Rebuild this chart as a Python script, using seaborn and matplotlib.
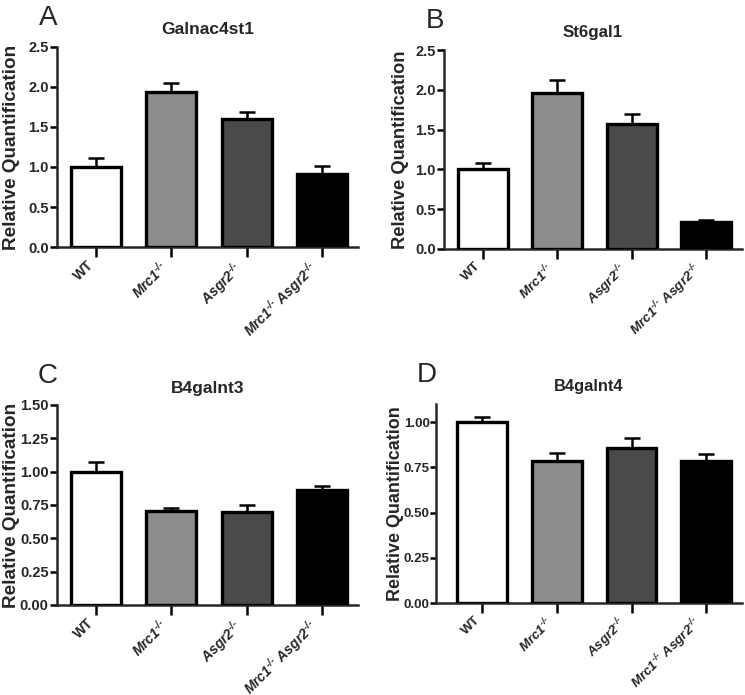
#
## plot.py
#
#  Relative quantification of four glycosyltransferase transcripts in WT and receptor knockout mice.
#

import matplotlib
matplotlib.use("Agg")
import matplotlib.pyplot as plt
import matplotlib.transforms as mtransforms
import seaborn as sns

sns.set_theme(style="ticks")
plt.rcParams['font.family'] = ['Liberation Sans', 'DejaVu Sans']
plt.rcParams['mathtext.fontset'] = 'custom'
plt.rcParams['mathtext.rm'] = 'Liberation Sans:italic:bold'
plt.rcParams['mathtext.it'] = 'Liberation Sans:italic:bold'
plt.rcParams['mathtext.bf'] = 'Liberation Sans:bold'

# genotypes and bar colours
genotypes = ["WT", r"Mrc1$^{\text{-/-}}$", r"Asgr2$^{\text{-/-}}$",
             r"Mrc1$^{\text{-/-}}$ Asgr2$^{\text{-/-}}$"]
bar_colors = ["#ffffff", "#8c8c8c", "#4a4a4a", "#000000"]

# values (mean and upper SEM)
galnac4st1_mean = [1.00, 1.94, 1.60, 0.91]
galnac4st1_err = [0.11, 0.11, 0.09, 0.10]
st6gal1_mean = [1.00, 1.96, 1.57, 0.34]
st6gal1_err = [0.08, 0.16, 0.12, 0.02]
b4galnt3_mean = [1.00, 0.705, 0.70, 0.86]
b4galnt3_err = [0.07, 0.022, 0.05, 0.03]
b4galnt4_mean = [1.00, 0.785, 0.858, 0.785]
b4galnt4_err = [0.028, 0.045, 0.055, 0.037]

W, H = 745, 695
fig = plt.figure(figsize=(W / 100, H / 100), dpi=100)


def px_axes(left, top, right, bottom):
    return fig.add_axes([left / W, (H - bottom) / H, (right - left) / W, (bottom - top) / H])


# letter, gene, means, errs, axes box in px, ymax, tick step, tick format, left xlim, ylabel x px, text scale
panels = [
    ("A", "Galnac4st1", galnac4st1_mean, galnac4st1_err, (57, 47, 358, 247), 2.5, 0.5, "%.1f", -0.52, 20, 1.0),
    ("B", "St6gal1", st6gal1_mean, st6gal1_err, (444, 50, 742, 249), 2.5, 0.5, "%.1f", -0.52, 409, 0.97),
    ("C", "B4galnt3", b4galnt3_mean, b4galnt3_err, (57, 405, 358, 605), 1.5, 0.25, "%.2f", -0.52, 20, 1.0),
    ("D", "B4galnt4", b4galnt4_mean, b4galnt4_err, (436, 404, 742, 603), 1.1, 0.25, "%.2f", -0.62, 404, 0.95),
]

# nudge the rotated genotype labels a little to the right and up, as in the original
label_shift = mtransforms.ScaledTranslation(7 / 100, 2 / 100, fig.dpi_scale_trans)

for letter, gene, means, errs, box, ymax, step, fmt, xleft, ylab_x, s in panels:
    ax = px_axes(*box)
    sns.barplot(x=genotypes, y=means, hue=genotypes, palette=bar_colors, legend=False,
                edgecolor="black", linewidth=2.4, width=0.667, saturation=1, ax=ax, zorder=3)
    # GraphPad-style: only upper error whisker
    ax.errorbar(range(len(genotypes)), means, yerr=[[0] * len(errs), errs], fmt="none",
                ecolor="black", elinewidth=1.8, capsize=6, capthick=1.8, zorder=2)

    ax.set_ylim(0, ymax)
    ax.set_xlim(xleft, 3.48)
    ticks = [i * step for i in range(int(round(min(ymax, 2.5) / step)) + 1) if i * step <= ymax + 1e-9]
    ax.set_yticks(ticks)
    ytick_size = 9.5 if letter == "D" else 10.5
    ax.set_yticklabels([fmt % t for t in ticks], fontsize=ytick_size, fontweight="bold")
    ax.set_xticks(range(len(genotypes)))
    ax.set_xticklabels(genotypes, rotation=45, ha="right", va="top",
                       fontsize=10 * s, fontweight="bold")
    for i, lab in enumerate(ax.get_xticklabels()):
        if i > 0:
            lab.set_fontstyle("italic")
        lab.set_transform(lab.get_transform() + label_shift)

    ax.set_ylabel("Relative Quantification", fontsize=13.6 * s, fontweight="bold")
    ax.yaxis.set_label_coords((ylab_x - box[0]) / (box[2] - box[0]), 0.5)
    ax.set_xlabel("")
    ax.set_title(gene, fontsize=12.5 * s, fontweight="bold", pad=9)
    sns.despine(ax=ax)
    for side in ["left", "bottom"]:
        ax.spines[side].set_linewidth(1.8)
    ax.tick_params(axis="y", width=1.8, length=5 if s > 0.96 else 4, pad=1 if s > 0.96 else 0.5, color="black")
    ax.tick_params(axis="x", width=1.8, length=7, pad=1, color="black")

    fig.text((box[0] - 9) / W, 1 - (box[1] - 29) / H, letter, fontsize=20, ha="center", va="center")

fig.savefig("out.png", dpi=100, facecolor="white")
